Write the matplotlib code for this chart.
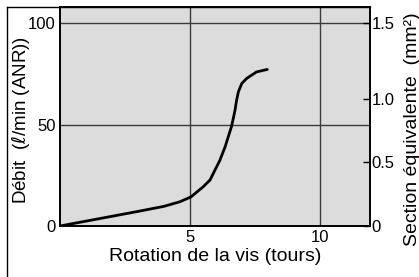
import matplotlib
matplotlib.use("Agg")
import matplotlib.pyplot as plt
from matplotlib.lines import Line2D

plt.rcParams['font.family'] = ['Liberation Sans', 'DejaVu Sans']

rotation = [0, 1, 2, 3, 4, 4.62, 5.04, 5.51, 5.77, 6.15, 6.35, 6.47, 6.60, 6.73, 6.79, 6.86, 6.99, 7.18, 7.56, 7.97]
debit = [0, 2.4, 4.8, 7.2, 9.7, 12.0, 14.4, 19.4, 22.7, 32.5, 39.1, 44.0, 49.3, 57.1, 62.0, 66.2, 70.3, 72.8, 76.0, 77.2]

x_ticks = [5, 10]
x_ticklabels = ["5", "10"]
y_ticks = [0, 50, 100]
y_ticklabels = ["0", "50", "100"]
sec_ticks = [0, 31.5, 62.8, 100]
sec_ticklabels = ["0", "0.5", "1.0", "1.5"]

W, H = 419, 277
fig = plt.figure(figsize=(W / 100, H / 100), dpi=100)
ax = fig.add_axes([60 / W, 1 - 226 / H, 310 / W, 219 / H])
ax.set_facecolor('#dcdcdc')
ax.set_xlim(0, 11.92)
ax.set_ylim(0, 108)

ax.set_xticks(x_ticks)
ax.set_xticklabels(x_ticklabels)
ax.set_yticks(y_ticks)
ax.set_yticklabels(y_ticklabels)
ax.tick_params(axis='both', length=0, labelsize=12, pad=3)
ax.grid(True, color='#3a3a3a', linewidth=1.0)
ax.set_axisbelow(True)
for s in ax.spines.values():
    s.set_linewidth(1.2)
    s.set_color('black')

ax.plot(rotation, debit, color='black', linewidth=2.0, solid_capstyle='round',
        solid_joinstyle='round')

ax2 = ax.twinx()
ax2.set_ylim(0, 108)
ax2.set_yticks(sec_ticks)
ax2.set_yticklabels(sec_ticklabels)
ax2.tick_params(axis='y', direction='in', length=5, width=1, labelsize=12, pad=1)
for s in ax2.spines.values():
    s.set_linewidth(1.2)

ax.set_xlabel('Rotation de la vis (tours)', fontsize=14, labelpad=2)
fig.text(20 / W, 1 - 120 / H, r'Débit  ($\ell$/min (ANR))', rotation=90, fontsize=13.5,
         ha='center', va='center')
fig.text(412 / W, 1 - 129 / H, 'Section équivalente  (mm²)', rotation=90, fontsize=14,
         ha='center', va='center')

# outer partial frame
fig.add_artist(Line2D([7 / W, 7 / W], [0, 1 - 7 / H], transform=fig.transFigure,
                      color='black', linewidth=1.0))
fig.add_artist(Line2D([7 / W, 370 / W], [1 - 7 / H, 1 - 7 / H], transform=fig.transFigure,
                      color='black', linewidth=1.0))

fig.savefig('out.png', dpi=100)
